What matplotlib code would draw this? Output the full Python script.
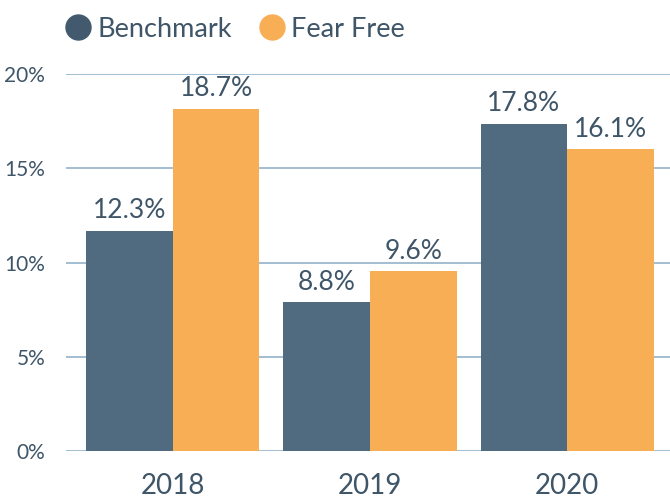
"""Benchmark vs Fear Free grouped bar chart."""

import matplotlib.pyplot as plt
import numpy as np
from matplotlib.lines import Line2D

years = ["2018", "2019", "2020"]
benchmark = [11.7, 7.9, 17.35]
fear_free = [18.15, 9.55, 16.0]
benchmark_labels = ["12.3%", "8.8%", "17.8%"]
fear_free_labels = ["18.7%", "9.6%", "16.1%"]
yticks = [0, 5, 10, 15, 20]

DARK = "#506a80"
ORANGE = "#f8ae55"
TEXT = "#3f5568"
GRID = "#94b3c9"

plt.rcParams["font.family"] = ["Lato", "DejaVu Sans"]

fig = plt.figure(figsize=(6.7, 5.04), dpi=100)
ax = fig.add_axes([0.0985, 0.105, 0.9015, 0.748])

x = np.arange(len(years))
w = 0.44
ax.bar(x - w / 2, benchmark, w, color=DARK, zorder=3)
ax.bar(x + w / 2, fear_free, w, color=ORANGE, zorder=3)

for xi, v, lab in zip(x - w / 2, benchmark, benchmark_labels):
    ax.text(xi, v + 0.4, lab, ha="center", va="bottom", fontsize=19, color=TEXT)
for xi, v, lab in zip(x + w / 2, fear_free, fear_free_labels):
    ax.text(xi, v + 0.4, lab, ha="center", va="bottom", fontsize=19, color=TEXT)

ax.set_xlim(-0.54, 2.52)
ax.set_ylim(0, 20)
ax.set_yticks(yticks)
ax.set_yticklabels([f"{t}%" for t in yticks], fontsize=15, color=TEXT)
ax.set_xticks(x)
ax.set_xticklabels(years, fontsize=20, color=TEXT)
ax.tick_params(axis="both", length=0)
ax.tick_params(axis="y", pad=15)
ax.tick_params(axis="x", pad=16)
ax.yaxis.grid(True, color=GRID, linewidth=1.2, zorder=0)
for s in ax.spines.values():
    s.set_visible(False)

handles = [
    Line2D([], [], marker="o", linestyle="", markersize=18, color="#435a6e", label="Benchmark"),
    Line2D([], [], marker="o", linestyle="", markersize=18, color=ORANGE, label="Fear Free"),
]
fig.legend(handles=handles, loc="upper left", bbox_to_anchor=(0.054, 1.015), ncol=2,
           frameon=False, fontsize=19.5, labelcolor=TEXT, handletextpad=0.05,
           columnspacing=0.85, handlelength=1.3)

fig.savefig("out.png", dpi=100)
